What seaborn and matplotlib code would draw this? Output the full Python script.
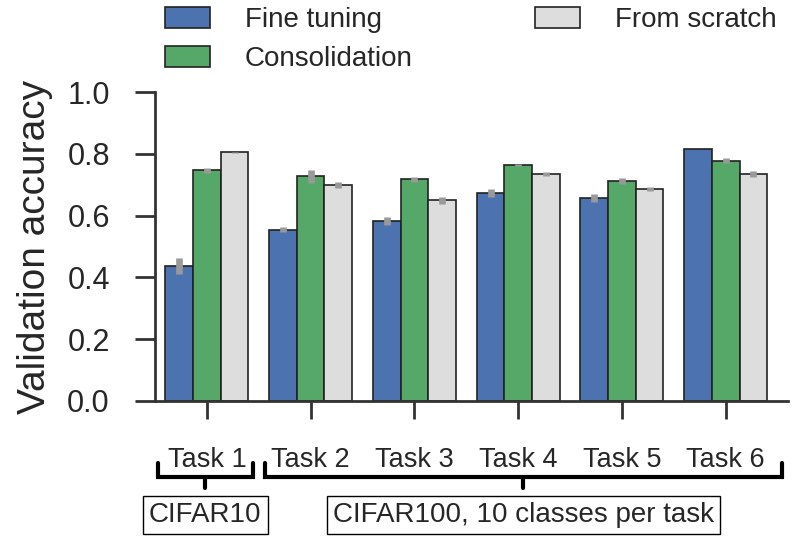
import matplotlib
matplotlib.use("Agg")
import matplotlib.pyplot as plt
import matplotlib.transforms as mtransforms
import pandas as pd
import seaborn as sns

tasks = ["Task 1", "Task 2", "Task 3", "Task 4", "Task 5", "Task 6"]
methods = ["Fine tuning", "Consolidation", "From scratch"]

fine_tuning = [0.437, 0.554, 0.583, 0.673, 0.657, 0.815]
consolidation = [0.747, 0.728, 0.717, 0.763, 0.711, 0.778]
from_scratch = [0.805, 0.699, 0.649, 0.734, 0.685, 0.734]

fine_tuning_err = [0.027, 0.008, 0.013, 0.012, 0.012, 0.001]
consolidation_err = [0.008, 0.021, 0.007, 0.003, 0.010, 0.008]
from_scratch_err = [0.001, 0.011, 0.012, 0.007, 0.007, 0.009]

colors = ["#4C72B0", "#55A868", "#DDDDDD"]

df = pd.DataFrame({
    "task": tasks * 3,
    "method": [m for m in methods for _ in tasks],
    "acc": fine_tuning + consolidation + from_scratch,
})
errs = [fine_tuning_err, consolidation_err, from_scratch_err]

sns.set_style("ticks")
plt.rcParams["font.family"] = ["Liberation Sans", "DejaVu Sans"]
plt.rcParams["text.color"] = "#262626"
plt.rcParams["axes.labelcolor"] = "#262626"

fig = plt.figure(figsize=(8, 5.45), dpi=100)
ax = fig.add_axes([155 / 800, 1 - 401 / 545, (788 - 155) / 800, 309 / 545])

sns.barplot(data=df, x="task", y="acc", hue="method", palette=colors,
            saturation=1, width=0.8, errorbar=None, edgecolor="#222222",
            linewidth=1.2, ax=ax)

# error bars on top of every bar
for cont, err in zip(ax.containers, errs):
    for bar, e in zip(cont, err):
        xc = bar.get_x() + bar.get_width() / 2
        h = bar.get_height()
        ax.plot([xc, xc], [h - e, h + e], color="#999999", lw=4.8,
                solid_capstyle="butt", zorder=5)

ax.set_ylim(0, 1.0)
ax.set_xlim(-0.5, 5.6)
ax.set_yticks([0.0, 0.2, 0.4, 0.6, 0.8, 1.0])
ax.set_xlabel("")
ax.set_ylabel("Validation accuracy", fontsize=28, labelpad=10)
ax.tick_params(axis="both", width=2, color="#333333", labelcolor="#262626")
ax.tick_params(axis="x", length=13, pad=20, labelsize=19.5)
ax.tick_params(axis="y", length=14.5, pad=18, labelsize=22)
for s in ["left", "bottom"]:
    ax.spines[s].set_linewidth(2)
    ax.spines[s].set_color("#333333")
sns.despine(ax=ax)

handles, labels = ax.get_legend_handles_labels()
ax.legend(handles, labels, ncol=2, frameon=False, fontsize=20,
          loc="upper left", bbox_to_anchor=(165 / 800, 1 - 7 / 545),
          bbox_transform=fig.transFigure, borderpad=0, borderaxespad=0,
          handlelength=1.62, handleheight=0.8, handletextpad=1.25,
          columnspacing=4.4, labelspacing=0.45)

# brackets and dataset boxes under the tick labels
tr = mtransforms.blended_transform_factory(ax.transData, ax.transAxes)

def ypos(pix):
    return (401 - pix) / 309

def bracket(x0, x1, label):
    xm = (x0 + x1) / 2
    ax.plot([x0, x0, x1, x1], [ypos(463), ypos(477), ypos(477), ypos(463)],
            color="black", lw=3, transform=tr, clip_on=False,
            solid_joinstyle="miter")
    ax.plot([xm, xm], [ypos(477), ypos(488)], color="black", lw=3,
            transform=tr, clip_on=False)
    ax.text(xm, ypos(515), label, transform=tr, ha="center", va="center",
            fontsize=20, bbox=dict(boxstyle="square,pad=0.22", fc="white",
                                   ec="black", lw=1))

bracket(-0.47, 0.44, "CIFAR10")
bracket(0.56, 5.54, "CIFAR100, 10 classes per task")

fig.savefig("out.png", dpi=100)
